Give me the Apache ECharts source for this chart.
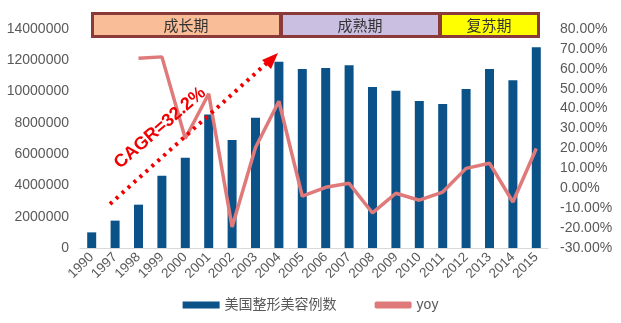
<!DOCTYPE html>
<html><head><meta charset="utf-8">
<script src="https://cdn.jsdelivr.net/npm/echarts@6/dist/echarts.min.js"></script>
<style>html,body{margin:0;padding:0;background:#fff}#c{width:621px;height:323px}</style>
</head><body><div id="c"></div>
<script>
const years = ['1990','1997','1998','1999','2000','2001','2002','2003','2004','2005','2006','2007','2008','2009','2010','2011','2012','2013','2014','2015'];
const procedures = [1000000,1750000,2770000,4620000,5770000,8540000,6900000,8330000,11900000,11440000,11500000,11690000,10290000,10050000,9390000,9200000,10160000,11440000,10730000,12840000];
const yoy = [null,null,65.3,66.0,25.0,47.5,-19.4,20.5,43.7,-4.0,0.5,2.5,-12.4,-2.5,-6.0,-1.9,10.0,12.6,-6.9,20.0];
const leftTicks = {min:0,max:14000000,interval:2000000};
const rightTicks = {min:-30,max:80,interval:10};
const phases = ['成长期','成熟期','复苏期'];
const cagrText = 'CAGR=32.2%';

const chart = echarts.init(document.getElementById('c'));
const font = '"Liberation Sans", "Noto Sans CJK SC", sans-serif';
const gray = '#595959';
chart.setOption({
  animation:false,
  textStyle:{fontFamily:font},
  grid:{left:80,right:73,top:29,bottom:75},
  legend:{
    bottom:6,left:'center',itemGap:38,itemWidth:37,itemHeight:7,
    textStyle:{color:gray,fontSize:14,fontFamily:font},
    data:[{name:'美国整形美容例数',icon:'rect'},{name:'yoy',icon:'roundRect',itemStyle:{color:'#E07A7A'}}]
  },
  xAxis:{type:'category',data:years,
    axisLine:{lineStyle:{color:'#D9D9D9',width:1}},axisTick:{show:false},
    axisLabel:{rotate:45,color:gray,fontSize:13.5,interval:0,margin:7,fontFamily:font}},
  yAxis:[
    {type:'value',min:leftTicks.min,max:leftTicks.max,interval:leftTicks.interval,
     splitLine:{show:false},axisLine:{show:false},axisTick:{show:false},
     axisLabel:{color:gray,fontSize:14,margin:11,fontFamily:font,formatter:v=>String(v)}},
    {type:'value',min:rightTicks.min,max:rightTicks.max,interval:rightTicks.interval,
     splitLine:{show:false},axisLine:{show:false},axisTick:{show:false},
     axisLabel:{color:gray,fontSize:14,margin:12,fontFamily:font,formatter:v=>v.toFixed(2)+'%'}}
  ],
  series:[
    {name:'美国整形美容例数',type:'bar',data:procedures,barWidth:9,itemStyle:{color:'#0B5288'}},
    {name:'yoy',type:'line',yAxisIndex:1,data:yoy,symbol:'none',connectNulls:false,
     lineStyle:{color:'#E07A7A',width:3.5},itemStyle:{color:'#E07A7A'}}
  ],
  graphic:[
    {type:'rect',shape:{x:91,y:12,width:449,height:26},style:{fill:'#8B3A3A'},z:100},
    {type:'rect',shape:{x:94,y:15,width:185,height:20},style:{fill:'#F9BE98'},z:101},
    {type:'rect',shape:{x:283,y:15,width:155,height:20},style:{fill:'#CABFE0'},z:101},
    {type:'rect',shape:{x:442,y:15,width:95,height:20},style:{fill:'#FFFF00'},z:101},
    {type:'text',x:186,y:25,style:{text:phases[0],fill:'#333',font:'15px "Noto Sans CJK SC"',align:'center',verticalAlign:'middle'},z:102},
    {type:'text',x:360,y:25,style:{text:phases[1],fill:'#333',font:'15px "Noto Sans CJK SC"',align:'center',verticalAlign:'middle'},z:102},
    {type:'text',x:489,y:25,style:{text:phases[2],fill:'#333',font:'15px "Noto Sans CJK SC"',align:'center',verticalAlign:'middle'},z:102},
    {type:'line',shape:{x1:110,y1:204,x2:268,y2:62},style:{stroke:'#F00000',lineWidth:4,lineDash:[3,5],lineCap:'butt'},z:103},
    {type:'polygon',shape:{points:[[278,53],[262,60],[271,69]]},style:{fill:'#F00000'},z:103},
    {type:'text',x:160,y:128,rotation:41*Math.PI/180,style:{text:cagrText,fill:'#F00000',font:'bold 18px "Liberation Sans", sans-serif',align:'center',verticalAlign:'middle'},z:103}
  ]
});
</script></body></html>
